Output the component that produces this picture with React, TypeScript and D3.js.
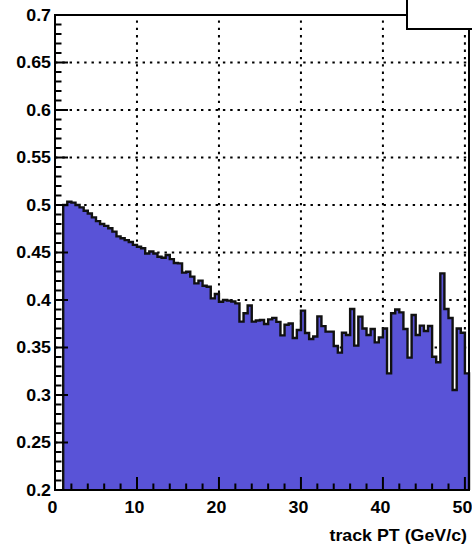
import React from "react";
import * as d3 from "d3";

const xStart = 1;
const binWidth = 0.5;
const values: number[] = [
  0.500, 0.5035, 0.5025, 0.500, 0.4975, 0.494, 0.491, 0.487, 0.483, 0.480,
  0.478, 0.4755, 0.472, 0.467, 0.465, 0.463, 0.461, 0.458, 0.456, 0.4545,
  0.449, 0.451, 0.449, 0.4455, 0.4445, 0.4474, 0.443, 0.439, 0.4386, 0.4288,
  0.4298, 0.4246, 0.4175, 0.4204, 0.415, 0.414, 0.4017, 0.4063, 0.3982, 0.400,
  0.3993, 0.3985, 0.3965, 0.3772, 0.386, 0.3942, 0.3772, 0.3785, 0.379, 0.3747,
  0.3796, 0.3812, 0.377, 0.3628, 0.374, 0.3752, 0.3600, 0.3684, 0.3888, 0.3652,
  0.3590, 0.3616, 0.3828, 0.3725, 0.3667, 0.3667, 0.3516, 0.3446, 0.3656, 0.3632,
  0.3905, 0.352, 0.3825, 0.370, 0.3632, 0.3695, 0.3554, 0.3607, 0.370, 0.3228,
  0.386, 0.390, 0.387, 0.3695, 0.3393, 0.3842, 0.3632, 0.373, 0.3674, 0.3726,
  0.3403, 0.3344, 0.428, 0.3905, 0.381, 0.3053, 0.370, 0.3656, 0.3228,
];
const xDomain: [number, number] = [0, 50.5];
const yDomain: [number, number] = [0.2, 0.7];
const xMajorTicks = [0, 10, 20, 30, 40, 50];
const xTickLabels = ["0", "10", "20", "30", "40", "50"];
const yMajorTicks = [0.2, 0.25, 0.3, 0.35, 0.4, 0.45, 0.5, 0.55, 0.6, 0.65, 0.7];
const yTickLabels = ["0.2", "0.25", "0.3", "0.35", "0.4", "0.45", "0.5", "0.55", "0.6", "0.65", "0.7"];
const xTitle = "track PT (GeV/c)";

const W = 472;
const H = 547;
const L = 55, R = 469, T = 15, B = 490;
const FONT = "'Liberation Sans', Arial, Helvetica, sans-serif";
const FILL = "#5953d7";
const FS = 16.5;
const SX = 1.08;

function Label({ x, y, anchor, children }: { x: number; y: number; anchor: string; children: React.ReactNode }) {
  return (
    <g transform={`translate(${x},${y}) scale(${SX},1)`}>
      <text x={0} y={0} textAnchor={anchor as any} fontFamily={FONT} fontWeight="bold" fontSize={FS}>
        {children}
      </text>
    </g>
  );
}

export default function App() {
  const x = d3.scaleLinear().domain(xDomain).range([L, R]);
  const y = d3.scaleLinear().domain(yDomain).range([B, T]);

  const pts: [number, number][] = [];
  pts.push([x(xStart), y(yDomain[0])]);
  values.forEach((v, i) => {
    const x0 = xStart + i * binWidth;
    pts.push([x(x0), y(v)]);
    pts.push([x(x0 + binWidth), y(v)]);
  });
  const xEnd = xStart + values.length * binWidth;
  pts.push([x(xEnd), y(yDomain[0])]);
  const line = d3.line<[number, number]>().x((d) => d[0]).y((d) => d[1]);
  const outline = line(pts) || "";
  const area = outline + "Z";

  const xMinor = d3.range(0, 50.5, 2).filter((t) => t % 10 !== 0);
  const yMinor = d3.range(20, 70.5, 1).map((t) => t / 100).filter((t) => Math.round(t * 100) % 5 !== 0);

  const dash = "2.4 4.9";

  return (
    <svg width={W} height={H} style={{ position: "absolute", left: 0, top: 0, display: "block" }}>
      <rect x={0} y={0} width={W} height={H} fill="white" />
      {xMajorTicks.filter((t) => t > 0).map((t) => (
        <line key={"gx" + t} x1={x(t)} x2={x(t)} y1={B} y2={T} stroke="black" strokeWidth={2} strokeDasharray={dash} />
      ))}
      {yMajorTicks.filter((t) => t > 0.2).map((t) => (
        <line key={"gy" + t} x1={L} x2={R} y1={y(t)} y2={y(t)} stroke="black" strokeWidth={2} strokeDasharray={dash} />
      ))}
      <path d={area} fill={FILL} stroke="none" />
      <path d={outline} fill="none" stroke="#111" strokeWidth={2.4} strokeLinejoin="miter" />
      <rect x={L} y={T} width={R - L} height={B - T} fill="none" stroke="black" strokeWidth={2} />
      {xMajorTicks.map((t) => (
        <line key={"xt" + t} x1={x(t)} x2={x(t)} y1={B} y2={B - 13} stroke="black" strokeWidth={2} />
      ))}
      {xMinor.map((t) => (
        <line key={"xm" + t} x1={x(t)} x2={x(t)} y1={B} y2={B - 6.5} stroke="black" strokeWidth={2} />
      ))}
      {yMajorTicks.map((t) => (
        <line key={"yt" + t} x1={L} x2={L + 13} y1={y(t)} y2={y(t)} stroke="black" strokeWidth={2} />
      ))}
      {yMinor.map((t) => (
        <line key={"ym" + t} x1={L} x2={L + 6.5} y1={y(t)} y2={y(t)} stroke="black" strokeWidth={2} />
      ))}
      {xMajorTicks.map((t, i) => (
        <Label key={"xl" + t} x={x(t) - 2.5} y={513} anchor="middle">
          {xTickLabels[i]}
        </Label>
      ))}
      {yMajorTicks.map((t, i) => (
        <Label key={"yl" + t} x={51} y={y(t) + 5.9} anchor="end">
          {yTickLabels[i]}
        </Label>
      ))}
      <Label x={467} y={540.5} anchor="end">
        {xTitle}
      </Label>
      <rect x={407} y={-2} width={70} height={31} fill="white" stroke="black" strokeWidth={2} />
    </svg>
  );
}
